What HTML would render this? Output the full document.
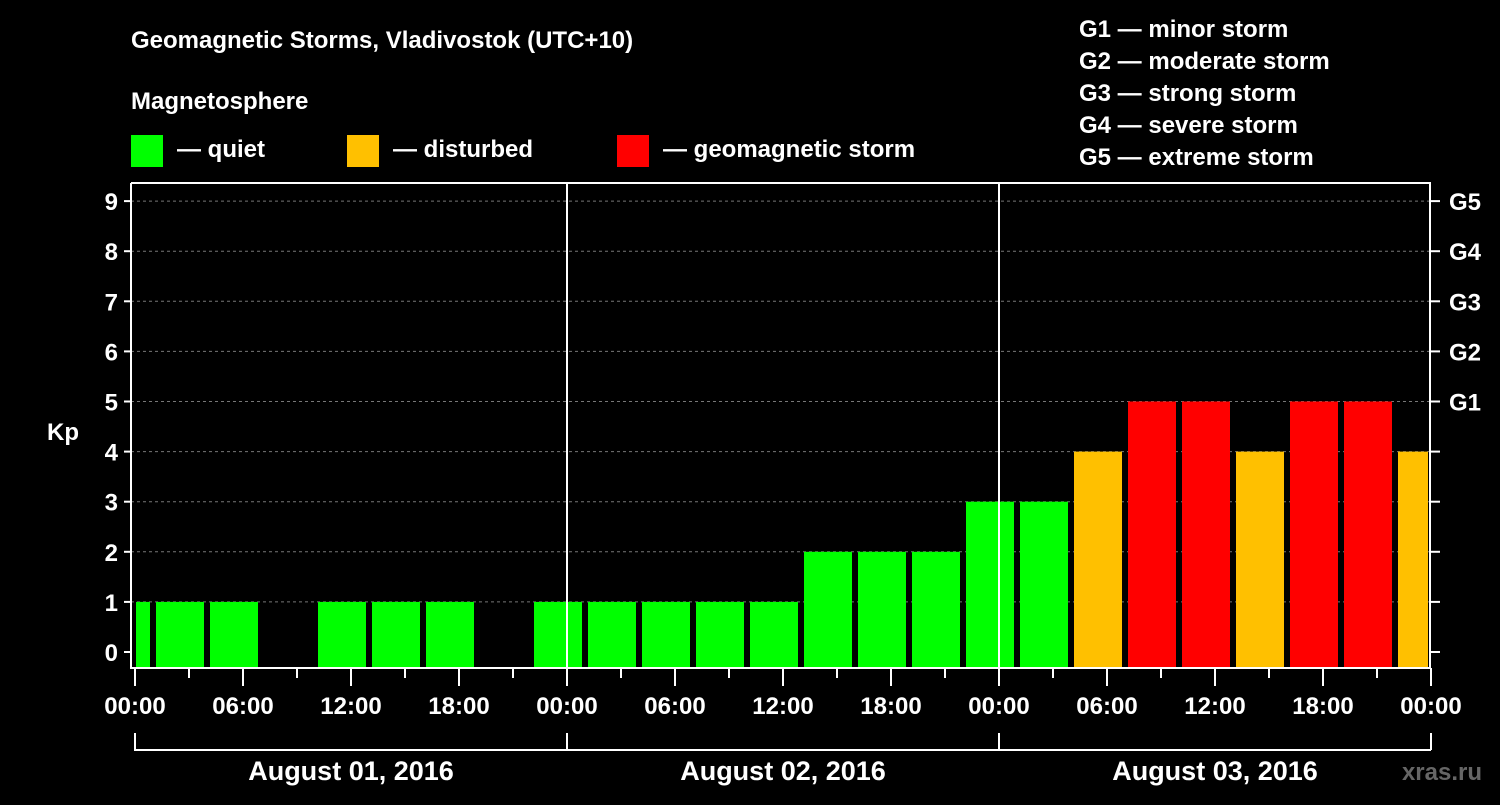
<!DOCTYPE html>
<html><head><meta charset="utf-8"><style>
body{margin:0;background:#000;width:1500px;height:800px;overflow:hidden}
svg text{font-family:"Liberation Sans",Arial,sans-serif;font-weight:bold;fill:#fff}
</style></head><body>
<svg id="chart" width="1500" height="800" viewBox="0 0 1500 800" xmlns="http://www.w3.org/2000/svg">
<rect width="1500" height="800" fill="#000"/>
<text x="131" y="48" font-size="24">Geomagnetic Storms, Vladivostok (UTC+10)</text>
<text x="131" y="109" font-size="24">Magnetosphere</text>
<g><rect x="131" y="135" width="32" height="32" fill="#00ff00"/><text x="177" y="157" font-size="24">— quiet</text></g>
<g><rect x="347" y="135" width="32" height="32" fill="#ffc000"/><text x="393" y="157" font-size="24">— disturbed</text></g>
<g><rect x="617" y="135" width="32" height="32" fill="#ff0000"/><text x="663" y="157" font-size="24">— geomagnetic storm</text></g>
<g font-size="24">
<text x="1079" y="37">G1 — minor storm</text>
<text x="1079" y="69">G2 — moderate storm</text>
<text x="1079" y="101">G3 — strong storm</text>
<text x="1079" y="133">G4 — severe storm</text>
<text x="1079" y="165">G5 — extreme storm</text>
</g>
<text x="63" y="440" font-size="24" text-anchor="middle">Kp</text>
<text x="1482" y="780" font-size="24" text-anchor="end" fill="#666" style="fill:#666">xras.ru</text>
<g id="grid"></g><g id="bars"></g><g id="axes"></g>
</svg>
<script>
const kpValues=[1,1,1,0,1,1,1,0,1,1,1,1,1,2,2,2,3,3,4,5,5,4,5,5,4];
const yTicks=[0,1,2,3,4,5,6,7,8,9];
const gLabels=["G1","G2","G3","G4","G5"];
const hourLabels=["00:00","06:00","12:00","18:00"];
const dayLabels=["August 01, 2016","August 02, 2016","August 03, 2016"];
const firstSlotHour=-2; // slots start 22:00 previous day (local), 3h each

const L=131,R=1430,T=183,B=668,X0=135,PXH=18;
const x=h=>X0+h*PXH;
const y=v=>652-v*50.1;
const NS="http://www.w3.org/2000/svg";
function mk(tag,attrs,parent,txt){const e=document.createElementNS(NS,tag);for(const k in attrs)e.setAttribute(k,attrs[k]);if(txt!==undefined)e.textContent=txt;parent.appendChild(e);return e;}
const grid=document.getElementById('grid'),bars=document.getElementById('bars'),axes=document.getElementById('axes');

yTicks.forEach(v=>{
  if(v>0){const g=mk('line',{x1:L,x2:R,y1:y(v),y2:y(v),stroke:'#777','stroke-dasharray':'3,3','stroke-width':1},grid);
  
  }
  const t=mk('line',{x1:L-7,x2:L,y1:y(v),y2:y(v),stroke:'#fff','stroke-width':2},axes);
  
  
  const t2=mk('line',{x1:R,x2:R+10,y1:y(v),y2:y(v),stroke:'#fff','stroke-width':2},axes);
  
  
  const lb=mk('text',{x:L-13,y:y(v)+9,'font-size':24,'text-anchor':'end'},axes,String(v));
  
  
});
gLabels.forEach((g,i)=>{
  const lb=mk('text',{x:R+19,y:y(5+i)+9,'font-size':24},axes,g);
  
  
});
const color=v=>v>=5?'#ff0000':(v>=4?'#ffc000':'#00ff00');
kpValues.forEach((v,i)=>{
  if(v<=0)return;
  let x1=x(firstSlotHour+i*3)+3,x2=x(firstSlotHour+(i+1)*3)-3;
  x1=Math.max(x1,L+5);x2=Math.min(x2,R-2);
  const r=mk('rect',{x:x1,y:y(v),width:x2-x1,height:B-y(v),fill:color(v)},bars);
  
  
});
// frame
const fr=mk('path',{d:`M${L} ${T} L${L} ${B} L${R} ${B} L${R} ${T} L${L} ${T}`,stroke:'#fff','stroke-width':2,fill:'none'},axes);


dayLabels.forEach((d,di)=>{
  if(di>0){const dl=mk('line',{x1:x(di*24),x2:x(di*24),y1:T,y2:B,stroke:'#fff','stroke-width':2},axes);
  
  }
  for(let h=0;h<24;h+=3){
    const major=h%6===0;
    const tk=mk('line',{x1:x(di*24+h),x2:x(di*24+h),y1:B,y2:B+(major?18:10),stroke:'#fff','stroke-width':2},axes);
    
    
  }
  hourLabels.forEach((hl,k)=>{
    const t=mk('text',{x:x(di*24+k*6),y:714,'font-size':24,'text-anchor':'middle'},axes,hl);
    
    
  });
  const bl=mk('path',{d:`M${x(di*24)} 733 L${x(di*24)} 750 L${x(di*24+24)} 750`,stroke:'#fff','stroke-width':2,fill:'none'},axes);
  
  
  const dt=mk('text',{x:x(di*24+12),y:780,'font-size':27,'text-anchor':'middle'},axes,d);
  
  
});
const lt=mk('line',{x1:x(72),x2:x(72),y1:B,y2:B+18,stroke:'#fff','stroke-width':2},axes);


const ll=mk('text',{x:x(72),y:714,'font-size':24,'text-anchor':'middle'},axes,hourLabels[0]);


const eb=mk('line',{x1:x(72),x2:x(72),y1:733,y2:750,stroke:'#fff','stroke-width':2},axes);


</script>
</body></html>
